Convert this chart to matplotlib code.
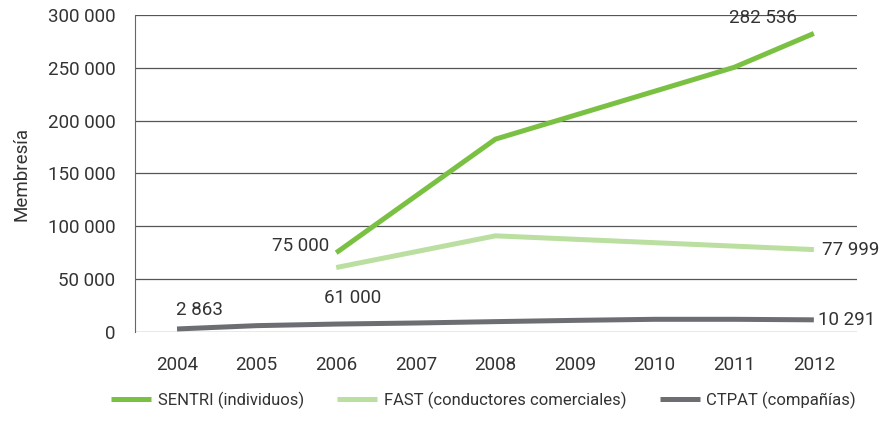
import matplotlib.pyplot as plt

plt.rcParams['font.family'] = ['Roboto', 'DejaVu Sans']

# datos
years = [2004, 2005, 2006, 2007, 2008, 2009, 2010, 2011, 2012]
sentri_years = [2006, 2008, 2011, 2012]
sentri = [75000, 182500, 250500, 282536]
fast_years = [2006, 2008, 2012]
fast = [61000, 91000, 77999]
ctpat_years = [2004, 2005, 2006, 2007, 2008, 2009, 2010, 2011, 2012]
ctpat = [2863, 6000, 7500, 8500, 9800, 11000, 12000, 12000, 11500]
yticks = [0, 50000, 100000, 150000, 200000, 250000, 300000]

c_sentri = '#7ac143'
c_fast = '#badfa0'
c_ctpat = '#6d6e71'
txt = '#333333'

fig = plt.figure(figsize=(8.87, 4.22), dpi=100)
ax = fig.add_axes([0.152, 0.2133, 0.814, 0.7512])

kw = dict(lw=3.6, clip_on=False, zorder=3, solid_capstyle='butt')
ax.plot(sentri_years, sentri, color=c_sentri, label='SENTRI (individuos)', **kw)
ax.plot(fast_years, fast, color=c_fast, label='FAST (conductores comerciales)', **kw)
ax.plot(ctpat_years, ctpat, color=c_ctpat, label='CTPAT (compañías)', **kw)

ax.set_xlim(2003.47, 2012.54)
ax.set_ylim(0, 300000)
ax.set_xticks(years)
ax.set_yticks(yticks)
ax.set_yticklabels([f'{v:,}'.replace(',', ' ') for v in yticks])
ax.grid(axis='y', color='#555555', lw=0.9)
ax.set_axisbelow(True)
for s in ['top', 'right', 'bottom']:
    ax.spines[s].set_visible(False)
ax.spines['left'].set_color('#666666')
ax.tick_params(length=0, labelsize=13.5, labelcolor=txt)
ax.tick_params(axis='x', pad=17)
ax.tick_params(axis='y', pad=14)
ax.set_ylabel('Membresía', fontsize=13.5, color=txt, labelpad=12)

def lab(x, y, s, dx, dy, ha):
    ax.annotate(s, (x, y), xytext=(dx, dy), textcoords='offset points',
                ha=ha, va='center', fontsize=13.5, color=txt)

lab(2012, 282536, '282 536', -12, 11, 'right')
lab(2006, 75000, '75 000', -5, 5, 'right')
lab(2006, 61000, '61 000', 12, -22, 'center')
lab(2012, 77999, '77 999', 6, 0, 'left')
lab(2012, 10291, '10 291', 3, 1, 'left')
lab(2004, 2863, '2 863', 16, 14, 'center')

fig.legend(loc='lower center', bbox_to_anchor=(0.545, -0.005), ncol=3, frameon=False,
           fontsize=12, handlelength=2.4, handletextpad=0.4, columnspacing=2.0,
           labelcolor=txt)

fig.savefig('out.png', dpi=100)
